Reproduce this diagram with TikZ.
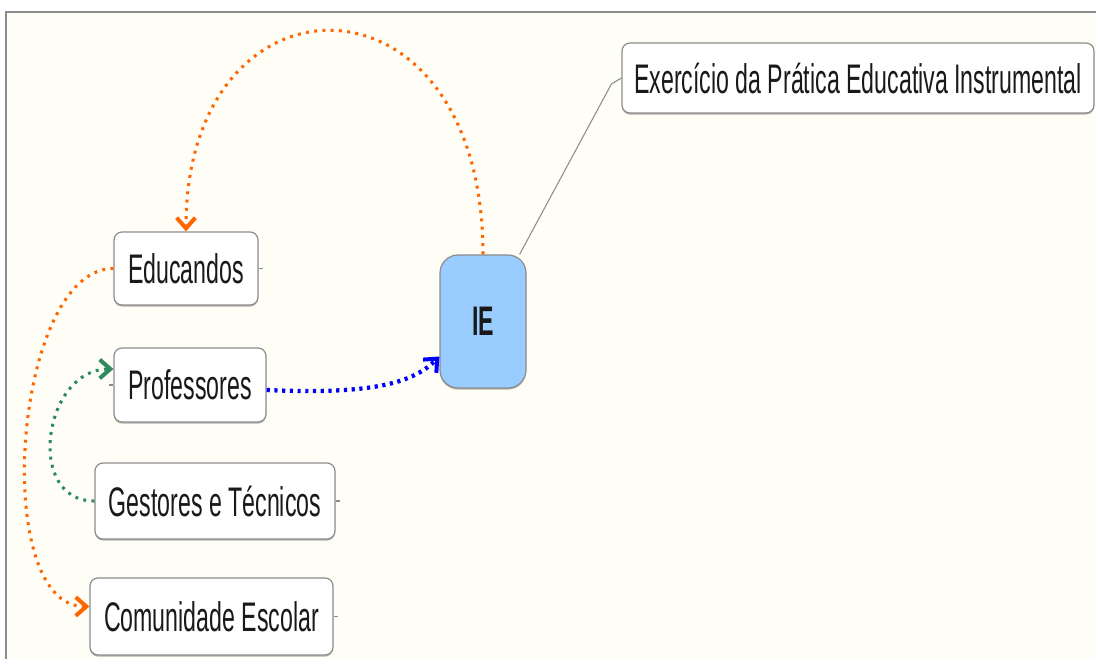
\documentclass[tikz,border=0pt]{standalone}
\usepackage{fontspec}
\setmainfont{Liberation Sans}[FakeStretch=0.56]
\usetikzlibrary{calc,arrows.meta,shadows}
\definecolor{paper}{RGB}{255,254,246}
\definecolor{edge}{RGB}{140,140,140}
\definecolor{ieblue}{RGB}{153,204,255}
\definecolor{linkorange}{RGB}{255,102,0}
\definecolor{linkgreen}{RGB}{46,139,96}
\definecolor{linkblue}{RGB}{0,0,255}
\newcommand*{\px}{0.75pt}
\newcommand*{\boxfont}{\fontsize{31}{36}\selectfont}

\begin{document}
\begin{tikzpicture}[x=\px, y=-\px,
    topic/.style = {draw=edge, fill=white, rounded corners=8*\px, line width=0.9pt,
                    text=black!90, font=\boxfont, inner sep=0pt,
                    drop shadow={shadow xshift=0pt, shadow yshift=-1.2pt, fill=black, opacity=.3}},
    central/.style = {topic, fill=ieblue, rounded corners=18*\px, font=\boxfont\bfseries},
    stub/.style = {draw=edge, line width=0.8pt},
    link/.style = {line width=2.3pt, dash pattern=on 2.2pt off 4pt,
                   -{Straight Barb[length=8pt, width=14pt, line width=3pt]}},
    thicklink/.style = {link, line width=3.2pt, dash pattern=on 2.4pt off 3.4pt}]
    \useasboundingbox (0,0) rectangle (1096,659);
    \fill [white] (0,0) rectangle (1096,659);
    \fill [paper] (6,12) rectangle (1096,659);
    \draw [edge, line width=1.4pt] (6,659) -- (6,12) -- (1096,12);

    \node [central, minimum width=86*\px, minimum height=133*\px] (ie) at (483,321.5) {IE};
    \node [topic, minimum width=472*\px, minimum height=70*\px] (exer) at (858,78) {Exercício da Prática Educativa Instrumental};
    \node [topic, minimum width=144*\px, minimum height=73*\px] (edu) at (186,268.5) {Educandos};
    \node [topic, minimum width=152*\px, minimum height=74*\px] (prof) at (190,385) {Professores};
    \node [topic, minimum width=240*\px, minimum height=76*\px] (gest) at (215,501) {Gestores e Técnicos};
    \node [topic, minimum width=243*\px, minimum height=77*\px] (comu) at (211.5,616.5) {Comunidade Escolar};

    \draw [stub] ($(ie.north east)+(-7,0)$) -- ($(exer.west)+(-10,6)$) -- (exer.west);
    \draw [stub] (edu.east) -- ++(4,0);
    \draw [stub] (prof.west) -- ++(-4,0);
    \draw [stub] (gest.east) -- ++(4,0);
    \draw [stub] (comu.east) -- ++(4,0);

    \draw [link, linkorange] (ie.north) .. controls +(0,-295) and +(0,-270) .. (edu.north);
    \draw [link, linkorange] (edu.west) .. controls +(-100,0) and +(-100,0) .. ($(comu.west)+(0,-10)$);
    \draw [link, linkgreen] (gest.west) .. controls +(-70,0) and +(-70,0) .. ($(prof.west)+(0,-16)$);
    \draw [thicklink, linkblue] ($(prof.east)+(0,5)$) .. controls +(110,5) and +(-25,25) .. ($(ie.west)+(0,35)$);
\end{tikzpicture}
\end{document}
